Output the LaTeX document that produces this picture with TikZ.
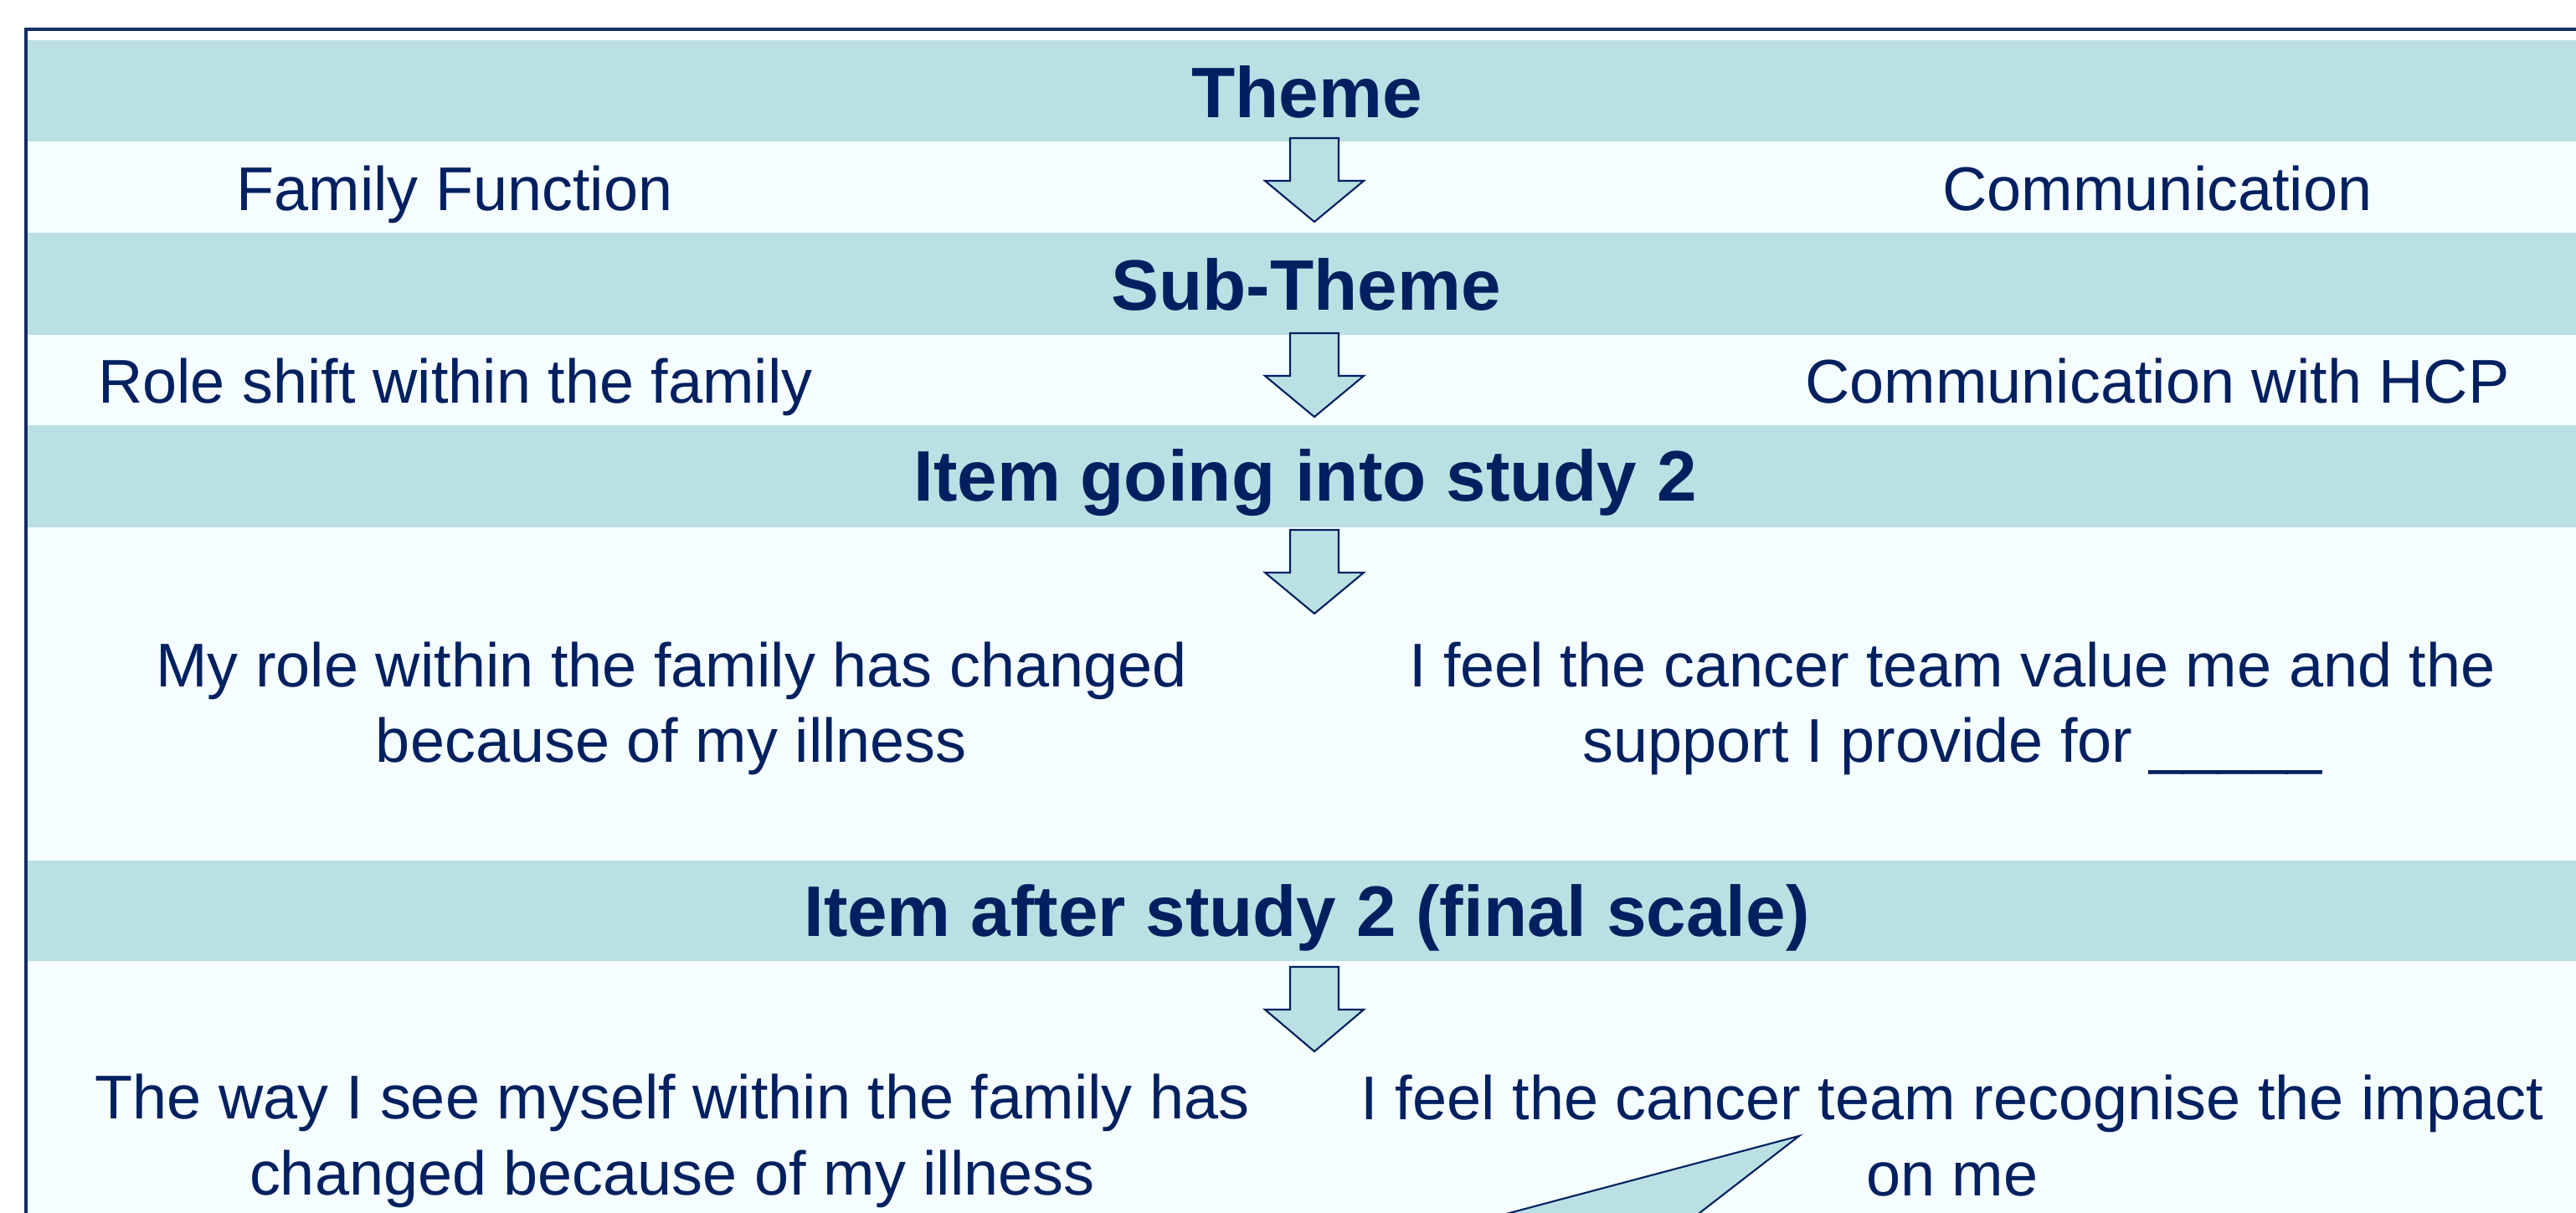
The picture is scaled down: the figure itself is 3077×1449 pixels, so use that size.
\documentclass[tikz,border=0pt]{standalone}
\usepackage{fontspec}
\setmainfont{Liberation Sans}
\definecolor{navy}{RGB}{0,32,96}
\definecolor{band}{RGB}{187,224,227}
\definecolor{pale}{RGB}{245,253,254}
\definecolor{framecol}{RGB}{20,44,100}

\begin{document}
\begin{tikzpicture}[x=0.01cm,y=-0.01cm,
	head/.style={text=navy,font=\fontsize{24.3}{29}\selectfont\bfseries,anchor=base,inner sep=0pt},
	item/.style={text=navy,font=\fontsize{21}{25.6}\selectfont,anchor=base,align=center,inner sep=0pt},
	blockarrow/.style={draw=navy,fill=band,line width=0.6pt,line join=miter}]
		\useasboundingbox (0,0) rectangle (3077,1449);
		\fill[white] (0,0) rectangle (3077,1449);
		
		\begin{scope}
		\clip (0,0) rectangle (3077,1449);
		\fill[pale] (33,48) rectangle (3077,1449);
		\fill[band] (33,48) rectangle (3077,169);
		\fill[band] (33,278) rectangle (3077,400);
		\fill[band] (33,508) rectangle (3077,630);
		\fill[band] (33,1028) rectangle (3077,1148);
		\draw[framecol,line width=1pt] (31,1460)--(31,35)--(3090,35);
		\draw[blockarrow] (2149,1357)--(1457,1541)--(1911,1541)--cycle;
		\end{scope}
		
		\draw[blockarrow] (1541,165)--(1599,165)--(1599,216)--(1629,216)--(1570,265)--(1511,216)--(1541,216)--cycle;
		\draw[blockarrow] (1541,398)--(1599,398)--(1599,449)--(1629,449)--(1570,498)--(1511,449)--(1541,449)--cycle;
		\draw[blockarrow] (1541,633)--(1599,633)--(1599,684)--(1629,684)--(1570,733)--(1511,684)--(1541,684)--cycle;
		\draw[blockarrow] (1541,1155)--(1599,1155)--(1599,1206)--(1629,1206)--(1570,1256)--(1511,1206)--(1541,1206)--cycle;
		
		\node[head] (theme) at (1561,141) {Theme};
		\node[head] (subtheme) at (1560,371) {Sub-Theme};
		\node[head] (itemin) at (1559,599) {Item going into study 2};
		\node[head] (itemout) at (1561,1118) {Item after study 2 (final scale)};
		
		\node[item] (famfn) at (543,252) {Family Function};
		\node[item] (comm) at (2577,252) {Communication};
		\node[item] (roleshift) at (544,482) {Role shift within the family};
		\node[item] (commhcp) at (2577,482) {Communication with HCP};
		% two-line texts sit on the baseline of their last line
		\node[item] (rolein) at (802,911) {My role within the family has changed\\because of my illness};
		\node[item] (teamin) at (2332,911) {I feel the cancer team value me and the\\support I provide for \_\_\_\_\_};
		\node[item] (roleout) at (803,1427) {The way I see myself within the family has\\changed because of my illness};
		\node[item] (teamout) at (2332,1428) {I feel the cancer team recognise the impact\\on me};
	
	\end{tikzpicture}
\end{document}
